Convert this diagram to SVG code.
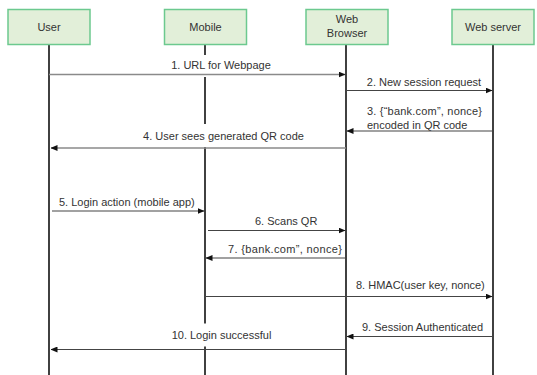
<svg xmlns="http://www.w3.org/2000/svg" width="537" height="375" viewBox="0 0 537 375">
<style>
.box{fill:#e2efd9;stroke:#6cc98f;stroke-width:1.5}
.t{font-family:"Liberation Sans",Arial,sans-serif;font-size:11px;fill:#333}
.c{text-anchor:middle}
.life{stroke:#111;stroke-width:1.6;fill:none}
.msg{stroke:#444;stroke-width:1.1;fill:none}
.msgl{stroke:#8a8a8a;stroke-width:1.5;fill:none}
.bg{fill:#fff}
</style>
<defs>
<marker id="ah" markerWidth="7" markerHeight="6" refX="6.5" refY="3" orient="auto" markerUnits="userSpaceOnUse">
<path d="M0,0 L7,3 L0,6 Z" fill="#111"/>
</marker>
</defs>
<rect width="537" height="375" fill="#fff"/>
<g id="lifelines">
<line class="life" x1="49" y1="45" x2="49" y2="375"/>
<line class="life" x1="205" y1="45" x2="205" y2="375"/>
<line class="life" x1="346" y1="45" x2="346" y2="375"/>
<line class="life" x1="493" y1="45" x2="493" y2="375"/>
</g>
<g id="user"><rect class="box" x="8" y="9.5" width="82" height="35"/><text class="t c" x="49" y="31">User</text></g>
<g id="mobile"><rect class="box" x="164.5" y="9.5" width="82" height="35"/><text class="t c" x="205.5" y="31">Mobile</text></g>
<g id="browser"><rect class="box" x="306" y="9.5" width="82" height="35"/><text class="t c" x="347" y="23">Web</text><text class="t c" x="347" y="37">Browser</text></g>
<g id="server"><rect class="box" x="452" y="9.5" width="82" height="35"/><text class="t c" x="493" y="31">Web server</text></g>
<g id="connectors">
<rect class="bg" x="170" y="55" width="102" height="22"/>
<text class="t c" x="221" y="69">1. URL for Webpage</text>
<line class="msgl" x1="49" y1="74.5" x2="345" y2="74.5" marker-end="url(#ah)"/>
<text class="t c" x="424" y="85.5">2. New session request</text>
<line class="msg" x1="346" y1="90.5" x2="492" y2="90.5" marker-end="url(#ah)"/>
<text class="t" x="367" y="115" textLength="115" lengthAdjust="spacing">3. {“bank.com”, nonce}</text>
<text class="t" x="367" y="129">encoded in QR code</text>
<line class="msg" x1="493" y1="131" x2="347" y2="131" marker-end="url(#ah)"/>
<rect class="bg" x="140" y="124" width="166" height="23"/>
<text class="t c" x="223.5" y="140">4. User sees generated QR code</text>
<line class="msgl" x1="346" y1="148" x2="51" y2="148" marker-end="url(#ah)"/>
<text class="t" x="59" y="205.5">5. Login action (mobile app)</text>
<line class="msg" x1="52" y1="211" x2="204" y2="211" marker-end="url(#ah)"/>
<text class="t" x="255" y="224.5">6. Scans QR</text>
<line class="msg" x1="208" y1="230.5" x2="345" y2="230.5" marker-end="url(#ah)"/>
<text class="t" x="228" y="252.5" textLength="114" lengthAdjust="spacing">7. {bank.com”, nonce}</text>
<line class="msg" x1="346" y1="258" x2="206" y2="258" marker-end="url(#ah)"/>
<text class="t" x="356" y="288.5">8. HMAC(user key, nonce)</text>
<line class="msg" x1="205" y1="296.5" x2="492" y2="296.5" marker-end="url(#ah)"/>
<text class="t" x="362" y="331">9. Session Authenticated</text>
<line class="msg" x1="493" y1="336.5" x2="347" y2="336.5" marker-end="url(#ah)"/>
<rect class="bg" x="168" y="323.5" width="107" height="23"/>
<text class="t c" x="221.5" y="339">10. Login successful</text>
<line class="msg" x1="346" y1="349.5" x2="51" y2="349.5" marker-end="url(#ah)"/>
</g>
</svg>
